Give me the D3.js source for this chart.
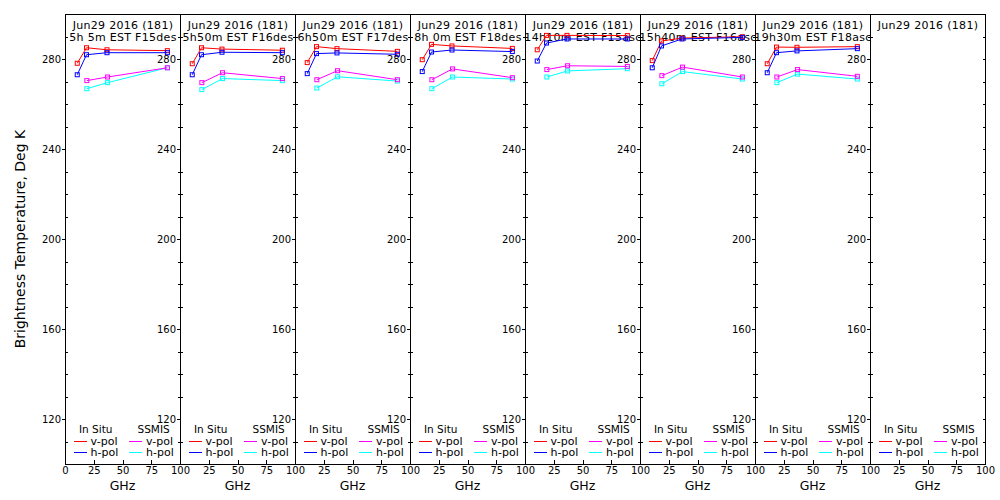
<!DOCTYPE html>
<html>
<head>
<meta charset="utf-8">
<script src="https://cdn.jsdelivr.net/npm/d3@7"></script>
<style>
  html, body { margin: 0; padding: 0; background: #ffffff; }
  svg { display: block; }
  text { font-family: "DejaVu Sans", sans-serif; fill: #000; }
</style>
</head>
<body>
<svg id="chart" width="1000" height="500"></svg>
<script>
// ---- data ----
const panelDates = ["Jun29 2016 (181)", "Jun29 2016 (181)", "Jun29 2016 (181)", "Jun29 2016 (181)",
                    "Jun29 2016 (181)", "Jun29 2016 (181)", "Jun29 2016 (181)", "Jun29 2016 (181)"];
const panelTimes = ["5h 5m EST F15des", "5h50m EST F16des", "6h50m EST F17des", "8h 0m EST F18des",
                    "14h10m EST F15asc", "15h40m EST F16asc", "19h30m EST F18asc", ""];
const insituFreq = [10.65, 18.7, 36.5, 89];
const ssmisFreq = [19, 37, 89];
const insituV = [
  [278.1, 285.0, 284.1, 283.7],
  [277.9, 285.0, 284.4, 283.9],
  [278.4, 285.5, 284.6, 283.4],
  [279.7, 286.5, 285.8, 284.7],
  [284.1, 290.5, 290.5, 290.4],
  [279.3, 288.0, 289.3, 289.9],
  [277.9, 285.3, 285.2, 285.5],
  []
];
const insituH = [
  [273.0, 281.9, 282.8, 282.8],
  [273.0, 281.9, 283.0, 282.8],
  [273.5, 282.4, 282.7, 282.1],
  [274.4, 283.1, 284.0, 283.3],
  [279.1, 287.1, 288.9, 288.9],
  [276.1, 285.8, 288.9, 289.6],
  [273.9, 282.8, 283.6, 284.6],
  []
];
const ssmisV = [
  [270.4, 272.0, 276.1],
  [269.5, 273.9, 271.3],
  [270.8, 274.8, 270.8],
  [270.8, 275.6, 271.7],
  [275.3, 277.0, 276.7],
  [272.6, 276.4, 272.0],
  [272.0, 275.3, 272.3],
  []
];
const ssmisH = [
  [266.8, 269.5, 276.1],
  [266.4, 271.3, 270.4],
  [267.1, 272.1, 270.2],
  [266.8, 272.0, 271.1],
  [272.0, 274.7, 275.7],
  [269.0, 274.4, 271.1],
  [269.5, 273.3, 271.1],
  []
];
const yTicks = [120, 160, 200, 240, 280];
const yMinorTicks = [110, 120, 130, 140, 150, 160, 170, 180, 190, 200, 210, 220, 230, 240, 250, 260, 270, 280, 290];
const xTicks = [0, 25, 50, 75, 100];
const seriesNames = ["v-pol", "h-pol"];
const colors = { inV: "#ff0000", inH: "#0000ff", ssV: "#ff00ff", ssH: "#00ffff" };

// ---- layout ----
const left0 = 65, panelW = 115, plotTop = 14, plotBottom = 464;
const nPanels = panelDates.length;

const svg = d3.select("#chart");
const x = d3.scaleLinear().domain([0, 100]).range([0, panelW]);
const y = d3.scaleLinear().domain([100, 300]).range([plotBottom, plotTop]);

// y-axis title
svg.append("text")
  .attr("transform", `translate(25,${(plotTop + plotBottom) / 2}) rotate(-90)`)
  .attr("text-anchor", "middle")
  .style("font-size", "14px")
  .text("Brightness Temperature, Deg K");

const line = d3.line().x(d => x(d[0])).y(d => y(d[1]));

for (let i = 0; i < nPanels; i++) {
  const g = svg.append("g").attr("transform", `translate(${left0 + i * panelW},0)`);

  // frame
  g.append("rect")
    .attr("x", 0).attr("y", plotTop).attr("width", panelW).attr("height", plotBottom - plotTop)
    .attr("fill", "none").attr("stroke", "#000").attr("stroke-width", 1)
    .attr("shape-rendering", "crispEdges");

  // left axis: major ticks outward with labels
  const ax = g.append("g").call(d3.axisLeft(y).tickValues(yTicks).tickSize(3).tickPadding(1).tickFormat(d3.format("d")));
  ax.select(".domain").remove();
  ax.selectAll("text").style("font-size", "10px").style("font-family", "DejaVu Sans, sans-serif");
  // left axis minor ticks inward
  const axm = g.append("g").call(d3.axisLeft(y).tickValues(yMinorTicks.filter(v => !yTicks.includes(v))).tickSize(-3).tickFormat(""));
  axm.select(".domain").remove();
  // right axis ticks inward
  const axr = g.append("g").attr("transform", `translate(${panelW},0)`)
    .call(d3.axisRight(y).tickValues(yMinorTicks).tickSize(-2).tickFormat(""));
  axr.select(".domain").remove();

  // bottom axis
  const bx = g.append("g").attr("transform", `translate(0,${plotBottom})`)
    .call(d3.axisBottom(x).tickValues(i === 0 ? xTicks : xTicks.slice(1)).tickSize(-4).tickPadding(3).tickFormat(d3.format("d")));
  bx.select(".domain").remove();
  bx.selectAll("text").style("font-size", "10px").style("font-family", "DejaVu Sans, sans-serif");

  g.selectAll(".tick line").attr("shape-rendering", "crispEdges");

  // x-axis title
  g.append("text").attr("x", panelW / 2).attr("y", 490).attr("text-anchor", "middle")
    .style("font-size", "12.5px").text("GHz");

  // headers
  g.append("text").attr("x", panelW / 2 + 0.5).attr("y", 28.5).attr("text-anchor", "middle")
    .style("font-size", "11px").style("letter-spacing", "0.3px").text(panelDates[i]);
  g.append("text").attr("x", panelW / 2 + 0.5).attr("y", 41).attr("text-anchor", "middle")
    .attr("xml:space", "preserve")
    .style("font-size", "11px").style("letter-spacing", "0.3px").style("white-space", "pre").text(panelTimes[i]);

  // data
  const series = [
    { f: ssmisFreq, v: ssmisH[i], c: colors.ssH },
    { f: ssmisFreq, v: ssmisV[i], c: colors.ssV },
    { f: insituFreq, v: insituV[i], c: colors.inV },
    { f: insituFreq, v: insituH[i], c: colors.inH }
  ];
  series.forEach(s => {
    if (!s.v.length) return;
    const pts = s.f.map((f, k) => [f, s.v[k]]);
    g.append("path").datum(pts).attr("d", line)
      .attr("fill", "none").attr("stroke", s.c).attr("stroke-width", 1);
    g.selectAll(null).data(pts).enter().append("rect")
      .attr("x", d => x(d[0]) - 2).attr("y", d => y(d[1]) - 2)
      .attr("width", 4).attr("height", 4)
      .attr("fill", "none").attr("stroke", s.c).attr("stroke-width", 1);
  });

  // legend
  const lg = g.append("g");
  lg.append("text").attr("x", 14).attr("y", 433).style("font-size", "10.5px").text("In Situ");
  lg.append("text").attr("x", 72.5).attr("y", 433).style("font-size", "10.5px").text("SSMIS");
  const legRows = [
    { name: seriesNames[0], cin: colors.inV, css: colors.ssV, yy: 441.5 },
    { name: seriesNames[1], cin: colors.inH, css: colors.ssH, yy: 452.5 }
  ];
  legRows.forEach(r => {
    lg.append("line").attr("x1", 9).attr("x2", 22).attr("y1", r.yy).attr("y2", r.yy)
      .attr("stroke", r.cin).attr("stroke-width", 1).attr("shape-rendering", "crispEdges");
    lg.append("text").attr("x", 25.5).attr("y", r.yy + 3.5).style("font-size", "11px").text(r.name);
    lg.append("line").attr("x1", 64).attr("x2", 77).attr("y1", r.yy).attr("y2", r.yy)
      .attr("stroke", r.css).attr("stroke-width", 1).attr("shape-rendering", "crispEdges");
    lg.append("text").attr("x", 81).attr("y", r.yy + 3.5).style("font-size", "11px").text(r.name);
  });
}
</script>
</body>
</html>
